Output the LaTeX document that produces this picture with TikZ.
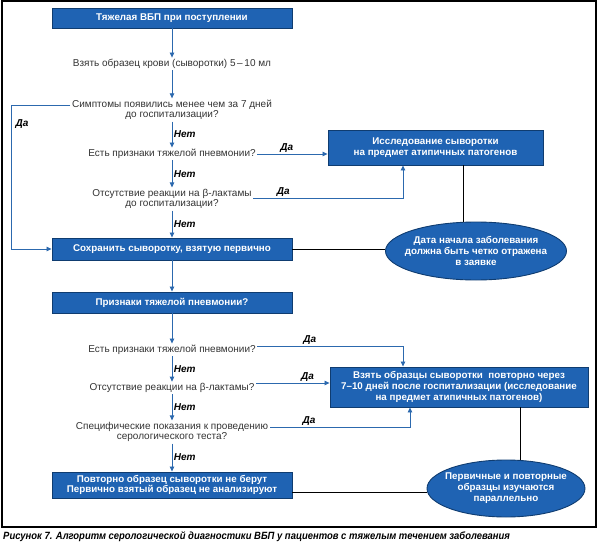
\documentclass[tikz,border=0pt]{standalone}
\usepackage{fontspec}
\setmainfont{Liberation Sans}
\newfontfamily\bodyfam{Liberation Sans}
\newfontfamily\boxfam{Liberation Sans}
\newfontfamily\capfam[FakeStretch=0.9]{Liberation Sans}
\usetikzlibrary{arrows.meta,calc,shapes.geometric}
\definecolor{boxblue}{HTML}{1F63B3}
\definecolor{boxedge}{HTML}{0F3C70}
\definecolor{arrblue}{HTML}{2C69AE}
\definecolor{txtgray}{HTML}{333333}
\tikzset{
  box/.style={draw=boxedge, fill=boxblue, line width=0.9pt, text=white,
    font=\boxfam\bfseries\fontsize{9.8}{10.6}\selectfont, align=center, inner sep=0pt},
  ell/.style={ellipse, draw=boxedge, fill=boxblue, line width=0.9pt, inner sep=0pt},
  elltext/.style={text=white, font=\boxfam\bfseries\fontsize{9.8}{11}\selectfont, align=center, inner sep=0pt},
  q/.style={text=txtgray, font=\bodyfam\fontsize{10}{10.5}\selectfont, align=center, inner sep=1.5pt},
  arr/.style={draw=arrblue, line width=0.8pt, -{Triangle[length=5pt,width=4.5pt]}},
  blk/.style={draw=black, line width=0.8pt},
  lab/.style={text=black, font=\boxfam\bfseries\itshape\fontsize{10}{10}\selectfont, inner sep=1.5pt}
}
\begin{document}
\begin{tikzpicture}[x=1pt,y=-1pt]
\useasboundingbox (0,0) rectangle (598,543);
\draw[line width=1.2pt] (2,1) rectangle (596,527);

% nodes
\node[box, minimum width=240pt, minimum height=20pt] (b1) at (172,18) {Тяжелая ВБП при поступлении};
\node[q] (t1) at (172,64) {Взять образец крови (сыворотки) 5\,–\,10 мл};
\node[q] (t2) at (172,110) {Симптомы появились менее чем за 7 дней\\до госпитализации?};
\node[q] (t3) at (172,154) {Есть признаки тяжелой пневмонии?};
\node[q] (t4) at (172,199) {Отсутствие реакции на β-лактамы\\до госпитализации?};
\node[box, minimum width=240pt, minimum height=22pt] (b2) at (172,249) {Сохранить сыворотку, взятую первично};
\node[box, minimum width=215pt, minimum height=35pt] (b3) at (435.5,147.5) {Исследование сыворотки\\на предмет атипичных патогенов};
\node[ell, minimum width=181pt, minimum height=58pt] (e1) at (476,251) {};
\node[elltext] (e1t) at (476,251) {Дата начала заболевания\\должна быть четко отражена\\в заявке};
\node[box, minimum width=240pt, minimum height=21pt] (b4) at (172,302.5) {Признаки тяжелой пневмонии?};
\node[q] (t5) at (172,350) {Есть признаки тяжелой пневмонии?};
\node[q] (t6) at (172,388) {Отсутствие реакции на β-лактамы?};
\node[box, minimum width=258pt, minimum height=40pt] (b5) at (459,387) {Взять образцы сыворотки\ \ повторно через\\7–10 дней после госпитализации (исследование\\на предмет атипичных патогенов)};
\node[q] (t7) at (172,432) {Специфические показания к проведению\\серологического теста?};
\node[box, minimum width=240pt, minimum height=26pt] (b6) at (172,485) {Повторно образец сыворотки не берут\\Первично взятый образец не анализируют};
\node[ell, minimum width=158pt, minimum height=57pt] (e2) at (506,488.5) {};
\node[elltext] (e2t) at (506,488.5) {Первичные и повторные\\образцы изучаются\\параллельно};
\node[anchor=west, inner sep=0pt, font=\capfam\bfseries\itshape\fontsize{10.5}{11}\selectfont] (cap) at (3,537) {Рисунок 7. Алгоритм серологической диагностики ВБП у пациентов с тяжелым течением заболевания};

% main column
\draw[arr] (b1) -- (t1);
\draw[arr] (t1) -- (t2);
\draw[arr] (t2) -- node[lab, right] {Нет} (t3);
\draw[arr] (t3) -- node[lab, right] {Нет} (t4);
\draw[arr] (t4) -- node[lab, right] {Нет} (b2);
\draw[arr] (b2) -- (b4);
\draw[arr] (b4) -- (t5);
\draw[arr] (t5) -- node[lab, right] {Нет} (t6);
\draw[arr] (t6) -- node[lab, right] {Нет} (t7);
\draw[arr] (t7) -- node[lab, right] {Нет} (b6);

% left loop
\coordinate (cL) at (11,249);
\draw[arr] ([yshift=5pt]t2.west) -| (cL) -- (b2.west);
\node[lab] (da0) at (22,124) {Да};

% upper right branches
\draw[arr] (t3.east) -- node[lab, pos=0.42, above] {Да} (t3.east -| b3.west);
\path ([xshift=-32.5pt]b3.south) coordinate (j3);
\draw[arr] ([yshift=1pt]t4.east) -| node[lab, pos=0.1, above] {Да} (j3);
\draw[blk] (b2.east) -- (b2.east -| e1.west);
\path ([xshift=27.5pt]b3.south) coordinate (j1);
\draw[blk] (j1) -- (j1 |- e1.north);

% lower right branches
\path ([xshift=-56pt]b5.north) coordinate (j5);
\draw[arr] ([yshift=4pt]t5.east) -| node[lab, pos=0.18, above] {Да} (j5);
\draw[arr] ([yshift=5pt]t6.east) -- node[lab, pos=0.7, above] {Да} ([yshift=5pt]t6.east -| b5.west);
\path ([xshift=-49pt]b5.south) coordinate (j7);
\draw[arr] ([yshift=5pt]t7.east) -| node[lab, pos=0.14, above] {Да} (j7);
\path ([xshift=61pt]b5.south) coordinate (j2);
\draw[blk] (j2) -- (j2 |- e2.north);
\draw[blk] ([yshift=-7pt]b6.east) -- ([yshift=-7pt]b6.east -| e2.west);
\end{tikzpicture}
\end{document}
